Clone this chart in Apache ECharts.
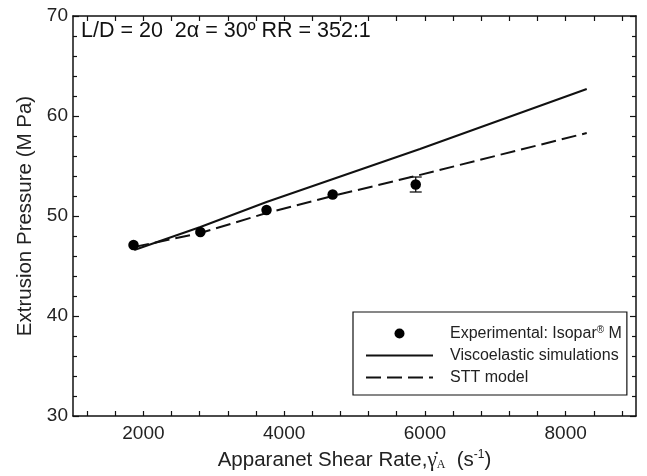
<!DOCTYPE html>
<html>
<head>
<meta charset="utf-8">
<script src="https://cdn.jsdelivr.net/npm/echarts@6/dist/echarts.min.js"></script>
<style>
html,body{margin:0;padding:0;background:#fff;}
#chart{width:647px;height:476px;}
</style>
</head>
<body>
<div id="chart"></div>
<script>
// ---- data ----
const expX   = [1860, 2810, 3750, 4690, 5870];
const expY   = [47.1, 48.4, 50.6, 52.15, 53.15];
const expErr = [0, 0, 0, 0, 0.75];

const viscoX = [1870, 2810, 3750, 5930, 8300];
const viscoY = [46.6, 48.9, 51.4, 56.7, 62.7];

const sttX = [1870, 2810, 3750, 4690, 5870, 8300];
const sttY = [46.9, 48.3, 50.3, 52.0, 54.0, 58.3];

const xLabelValues = [2000, 4000, 6000, 8000];
const xTickValues  = [1200, 1600, 2000, 2400, 2800, 3200, 3600, 4000, 4400, 4800,
                      5200, 5600, 6000, 6400, 6800, 7200, 7600, 8000, 8400, 8800];

const seriesNames = ['Experimental: Isopar® M', 'Viscoelastic simulations', 'STT model'];
const annotation = 'L/D = 20  2α = 30º RR = 352:1';
const yTitle = 'Extrusion Pressure (M Pa)';

const FONT = 'Liberation Sans, Arial, sans-serif';
const INK = '#111';
const TXT = '#222';

const chart = echarts.init(document.getElementById('chart'), null, {renderer: 'canvas'});

const xCommon = {
  type: 'value', min: 1000, max: 9000,
  axisLine: {show: true, onZero: false, lineStyle: {color: INK, width: 1.5}},
  splitLine: {show: false},
  axisTick: {show: true, inside: true, length: 5, customValues: xTickValues, lineStyle: {color: INK, width: 1.2}}
};
const yCommon = {
  type: 'value', min: 30, max: 70, interval: 10,
  axisLine: {show: true, onZero: false, lineStyle: {color: INK, width: 1.5}},
  splitLine: {show: false},
  axisTick: {show: true, inside: true, length: 6, lineStyle: {color: INK, width: 1.2}},
  minorTick: {show: true, splitNumber: 5, length: 4, lineStyle: {color: INK, width: 1.2}}
};

chart.setOption({
  animation: false,
  backgroundColor: '#fff',
  textStyle: {fontFamily: FONT},
  title: {
    text: annotation,
    left: 81, top: 20, padding: 0,
    textStyle: {fontFamily: FONT, fontSize: 21.5, fontWeight: 'normal', color: INK}
  },
  grid: {left: 73, right: 11, top: 16, bottom: 55},
  legend: {
    data: [
      {name: seriesNames[0]},
      {name: seriesNames[1], itemStyle: {opacity: 0}},
      {name: seriesNames[2], itemStyle: {opacity: 0}}
    ],
    orient: 'vertical',
    left: 353, top: 312,
    padding: [13, 5, 9, 12],
    itemWidth: 67, itemHeight: 10, itemGap: 5,
    borderColor: INK, borderWidth: 1.2,
    backgroundColor: '#fff',
    selectedMode: false,
    formatter: function (name) {
      return name.indexOf('®') >= 0 ? name.replace('®', '{sup|®}') : name;
    },
    textStyle: {
      fontFamily: FONT, fontSize: 16, color: TXT, lineHeight: 17,
      padding: [0, 0, 0, 12],
      rich: {sup: {fontSize: 10, verticalAlign: 'top', lineHeight: 17, color: TXT}}
    }
  },
  xAxis: [
    Object.assign({}, xCommon, {
      position: 'bottom',
      name: 'Apparanet Shear Rate,{g|γ̇}{sub|A}  (s{sup|-1})',
      nameLocation: 'middle', nameGap: 33,
      nameTextStyle: {
        fontFamily: FONT, fontSize: 20.5, color: TXT, lineHeight: 22,
        rich: {
          g: {fontFamily: 'Liberation Serif, serif', fontSize: 21, color: TXT},
          sub: {fontFamily: 'Liberation Serif, serif', fontSize: 12, verticalAlign: 'bottom', color: TXT, lineHeight: 22},
          sup: {fontFamily: FONT, fontSize: 12, verticalAlign: 'top', color: TXT, lineHeight: 22}
        }
      },
      axisLabel: {show: true, customValues: xLabelValues, margin: 8, fontSize: 19, color: TXT, fontFamily: FONT,
                  formatter: function (v) { return String(v); }}
    }),
    Object.assign({}, xCommon, {
      position: 'top',
      axisLabel: {show: false}
    })
  ],
  yAxis: [
    Object.assign({}, yCommon, {
      position: 'left',
      name: yTitle, nameLocation: 'middle', nameGap: 36,
      nameTextStyle: {fontFamily: FONT, fontSize: 20.5, color: TXT},
      axisLabel: {show: true, margin: 5, fontSize: 19, color: TXT, fontFamily: FONT}
    }),
    Object.assign({}, yCommon, {
      position: 'right',
      axisLabel: {show: false}
    })
  ],
  series: [
    {
      name: 'errorbars',
      type: 'custom',
      xAxisIndex: 0, yAxisIndex: 0,
      data: expX.map((x, i) => [x, expY[i] - expErr[i], expY[i] + expErr[i]]),
      renderItem: function (params, api) {
        const x = api.value(0);
        if (api.value(2) - api.value(1) <= 0) return null;
        const lo = api.coord([x, api.value(1)]);
        const hi = api.coord([x, api.value(2)]);
        const w = 6;
        const st = {stroke: INK, lineWidth: 1.3};
        return {
          type: 'group',
          children: [
            {type: 'line', shape: {x1: lo[0], y1: lo[1], x2: hi[0], y2: hi[1]}, style: st},
            {type: 'line', shape: {x1: lo[0] - w, y1: lo[1], x2: lo[0] + w, y2: lo[1]}, style: st},
            {type: 'line', shape: {x1: hi[0] - w, y1: hi[1], x2: hi[0] + w, y2: hi[1]}, style: st}
          ]
        };
      },
      z: 2
    },
    {
      name: seriesNames[1],
      type: 'line',
      data: viscoX.map((x, i) => [x, viscoY[i]]),
      symbol: 'none',
      lineStyle: {color: INK, width: 2},
      itemStyle: {color: INK},
      z: 3
    },
    {
      name: seriesNames[2],
      type: 'line',
      data: sttX.map((x, i) => [x, sttY[i]]),
      symbol: 'none',
      lineStyle: {color: INK, width: 2, type: [15, 6]},
      itemStyle: {color: INK},
      z: 3
    },
    {
      name: seriesNames[0],
      type: 'scatter',
      data: expX.map((x, i) => [x, expY[i]]),
      symbol: 'circle',
      symbolSize: 10.5,
      itemStyle: {color: '#000', opacity: 1},
      z: 4
    }
  ]
});
</script>
</body>
</html>
